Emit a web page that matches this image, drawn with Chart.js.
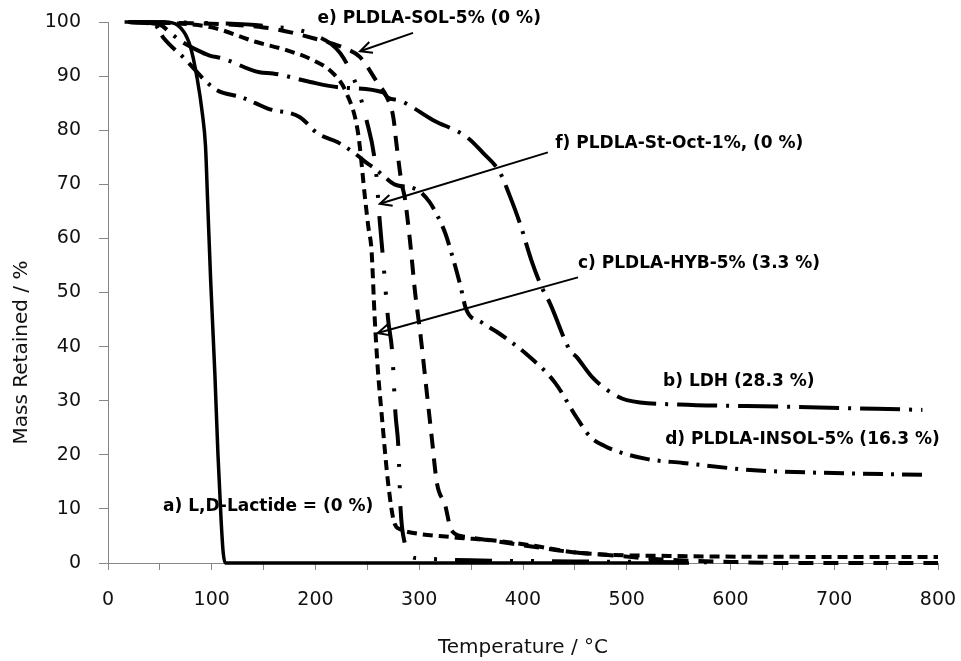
<!DOCTYPE HTML><html><head>
<meta charset="utf-8">
<style>
    html, body { margin: 0; padding: 0; background: #fff; }
    #box { width: 961px; height: 661px; }
</style>
<script src="https://cdn.jsdelivr.net/npm/chart.js@4.4.1/dist/chart.umd.min.js"></script>
</head>
<body>
<div id="box"><canvas id="tga" width="961" height="661"></canvas></div>
<script>
// TGA curves, temperature (°C) vs mass retained (%)
var lactideT = [16, 55, 67, 79, 86, 91, 94, 96, 99, 103, 106, 109, 111, 113, 300, 560];
var lactideM = [100, 100, 99.4, 95.7, 89.5, 83, 77, 67, 52, 35, 20, 8, 2, 0, 0, 0];

var ldhT = [20, 50, 60, 70, 86, 98, 110, 146, 159, 195, 224, 265, 270, 281, 313, 346, 361, 378, 387, 397, 408, 418, 426, 445, 452, 466, 481, 500, 550, 651, 785];
var ldhM = [100, 99.5, 98, 96.5, 94.8, 93.8, 93.3, 90.7, 90.5, 88.9, 87.9, 87, 86, 85.5, 81.9, 78.7, 75.9, 72.1, 68, 62.8, 56, 51, 48, 39.4, 38, 34.5, 32, 30.1, 29.3, 28.9, 28.3];

var hybT = [20, 60, 100, 143, 172, 198, 217, 230, 241, 248, 251, 254, 257, 260, 264, 270, 276, 282, 288, 330, 375, 410, 448, 487, 540, 583, 800];
var hybM = [100, 99.8, 99, 96.3, 94.8, 92.9, 90.5, 86.8, 79.5, 67, 62, 57.8, 45.5, 36, 27, 14.8, 7.4, 6.2, 5.8, 4.8, 4.1, 3.2, 2, 1.5, 1.3, 1.2, 1.1];

var insolT = [20, 45, 53, 75, 95, 105, 130, 142, 154, 185, 202, 221, 238, 249, 258, 267, 276, 298, 310, 318, 325, 333, 340, 345, 360, 375, 404, 431, 452, 465, 480, 493, 520, 554, 619, 683, 785];
var insolM = [100, 99.5, 97.2, 93, 88.9, 87.4, 86, 85, 84, 82.4, 79.4, 77.8, 75.7, 74, 72.8, 71.3, 70, 69, 66.7, 64, 61, 56, 51, 47, 44.5, 42.7, 38.5, 33.3, 26.8, 23.3, 21.5, 20.5, 19.2, 18.5, 17.2, 16.7, 16.3];

var solT = [20, 150, 198, 230, 243, 259, 269, 275, 278, 283, 286, 291, 296, 301, 307, 312, 317, 325, 331, 346, 375, 410, 448, 487, 530, 600, 650, 800];
var solM = [100, 99, 97, 95, 93.5, 89, 86, 82.4, 77.5, 70.2, 67.6, 59.7, 50, 42.5, 32, 23.3, 14.8, 10.7, 6, 4.8, 4, 3, 2, 1.4, 0.7, 0.2, 0, 0];

var stoctT = [20, 100, 150, 200, 224, 240, 249, 258, 262, 265, 270, 274, 277, 280, 282, 286, 292, 298, 317, 350, 450, 590];
var stoctM = [100, 99.8, 99.3, 97.5, 94.2, 88, 82, 73, 63, 56.5, 45, 38.8, 27.8, 21, 10, 3.7, 1.2, 0.9, 0.7, 0.5, 0.3, 0.1];

var xMin = 0, xMax = 800, xStep = 50, xLabelStep = 100;
var yMin = 0, yMax = 100, yStep = 10;

// labels and arrows, placed in data units (°C, %)
var notes = [
    { text: 'e) PLDLA-SOL-5% (0 %)', t: 202, m: 100.7 },
    { text: 'f) PLDLA-St-Oct-1%, (0 %)', t: 431, m: 77.6 },
    { text: 'c) PLDLA-HYB-5% (3.3 %)', t: 453, m: 55.4 },
    { text: 'b) LDH (28.3 %)', t: 535, m: 33.6 },
    { text: 'd) PLDLA-INSOL-5% (16.3 %)', t: 537, m: 22.8 },
    { text: 'a) L,D-Lactide = (0 %)', t: 53, m: 10.4 }
];
var arrows = [
    { from: [294, 98.0], to: [243, 94.6] },
    { from: [424, 75.9], to: [262, 66.4] },
    { from: [453, 52.8], to: [260, 42.5] }
];

function pairs(ts, ms) {
    return ts.map(function(t, i) { return { x: t, y: ms[i] }; });
}

function line(data, dash, width) {
    return {
        data: data,
        showLine: true,
        borderColor: '#000',
        borderWidth: width,
        borderDash: dash,
        pointRadius: 0,
        cubicInterpolationMode: 'monotone',
        fill: false,
        clip: false
    };
}

var notesPlugin = {
    id: 'notes',
    afterDatasetsDraw: function(chart) {
        var c = chart.ctx, xs = chart.scales.x, ys = chart.scales.y;
        c.save();
        c.strokeStyle = '#000';
        c.lineWidth = 2;
        arrows.forEach(function(a) {
            var x1 = xs.getPixelForValue(a.from[0]), y1 = ys.getPixelForValue(a.from[1]);
            var x2 = xs.getPixelForValue(a.to[0]), y2 = ys.getPixelForValue(a.to[1]);
            var ang = Math.atan2(y2 - y1, x2 - x1);
            c.beginPath();
            c.moveTo(x1, y1);
            c.lineTo(x2, y2);
            c.stroke();
            c.beginPath();
            c.moveTo(x2 - 13 * Math.cos(ang - 0.45), y2 - 13 * Math.sin(ang - 0.45));
            c.lineTo(x2, y2);
            c.lineTo(x2 - 13 * Math.cos(ang + 0.45), y2 - 13 * Math.sin(ang + 0.45));
            c.stroke();
        });
        c.fillStyle = '#000';
        c.font = 'bold 17px "DejaVu Sans"';
        c.textAlign = 'left';
        c.textBaseline = 'middle';
        notes.forEach(function(n) {
            c.fillText(n.text, xs.getPixelForValue(n.t), ys.getPixelForValue(n.m));
        });
        // y axis title (sits a little below the middle of the axis, like the original)
        c.font = '20px "DejaVu Sans"';
        c.fillStyle = '#111';
        c.textAlign = 'center';
        c.translate(22, (chart.chartArea.top + chart.chartArea.bottom) / 2 + 60);
        c.rotate(-Math.PI / 2);
        c.fillText('Mass Retained / %', 0, 0);
        c.restore();
    }
};

var tickFont = { family: 'DejaVu Sans', size: 19 };

var ctx = document.getElementById('tga');
var tgaChart = new Chart(ctx, {
    type: 'scatter',
    data: {
        datasets: [
            line(pairs(lactideT, lactideM), [], 3.5),
            line(pairs(ldhT, ldhM), [40, 9, 3, 9], 4),
            line(pairs(hybT, hybM), [10, 6], 4),
            line(pairs(insolT, insolM), [20, 8, 3, 8], 4),
            line(pairs(solT, solM), [15, 10], 4),
            line(pairs(stoctT, stoctM), [37, 18, 3, 18, 3, 18], 4)
        ]
    },
    options: {
        responsive: false,
        animation: false,
        layout: { padding: { top: 22, right: 23, left: 0, bottom: 0 } },
        plugins: { legend: { display: false }, tooltip: { enabled: false } },
        scales: {
            x: {
                type: 'linear', min: xMin, max: xMax,
                // fixed box so the plot area lands where the original's did
                afterFit: function(s) { s.height = 98; s.paddingLeft = 0; s.paddingRight = 0; },
                ticks: {
                    stepSize: xStep, autoSkip: false, maxRotation: 0, padding: 19,
                    color: '#111', font: tickFont,
                    callback: function(v) { return v % xLabelStep === 0 ? v : ''; }
                },
                grid: { drawOnChartArea: false, tickLength: 7, color: '#868686' },
                border: { color: '#868686' },
                title: {
                    display: true, text: 'Temperature / °C', color: '#111',
                    font: { family: 'DejaVu Sans', size: 20 },
                    padding: { top: 0, bottom: 1 }
                }
            },
            y: {
                min: yMin, max: yMax,
                afterFit: function(s) { s.width = 108; s.paddingTop = 0; s.paddingBottom = 0; },
                ticks: { stepSize: yStep, padding: 18, color: '#111', font: tickFont },
                grid: { drawOnChartArea: false, tickLength: 9, color: '#868686' },
                border: { color: '#868686' }
            }
        }
    },
    plugins: [notesPlugin]
});
</script>
</body></html>
